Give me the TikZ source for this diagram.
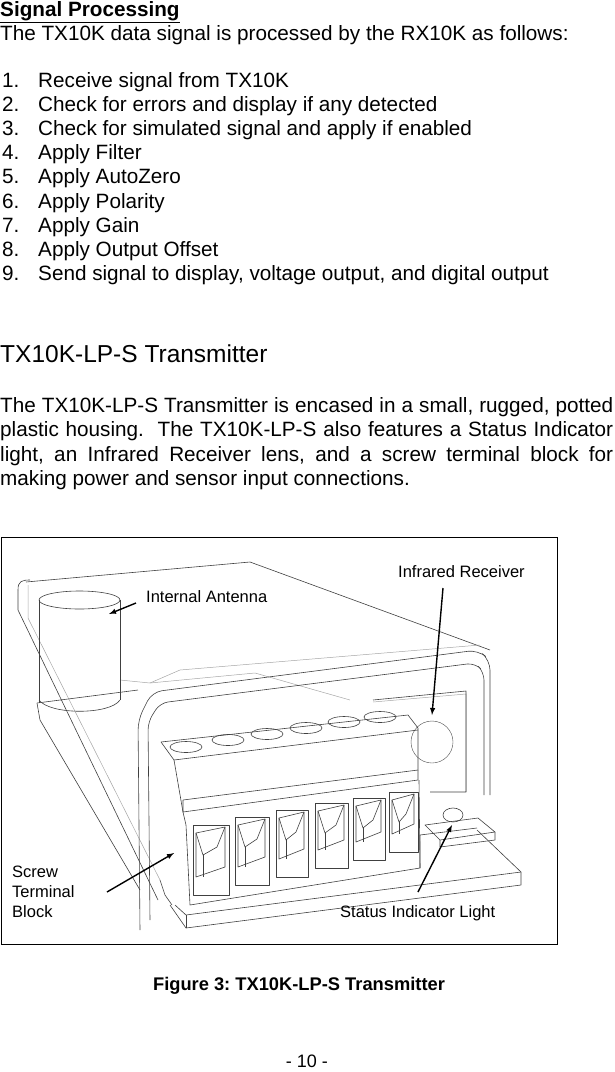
\documentclass[tikz,border=0pt]{standalone}
\usepackage{fontspec}
\setmainfont{Liberation Sans}
\frenchspacing
\begin{document}
\begin{tikzpicture}[x=1pt,y=-1pt,
  txt/.style={anchor=base west,inner sep=0pt,font=\fontsize{20.7}{24}\selectfont},
  lbl/.style={anchor=base west,inner sep=0pt,font=\fontsize{16.5}{20}\selectfont},
  arr/.style={-latex,line width=1.4pt},
  dev/.style={draw=black!75,line width=0.6pt,line join=round},
  faint/.style={draw=black!35,line width=0.5pt}]
\useasboundingbox (0,0) rectangle (615,1072);
% ---------- text ----------
\node[txt] (t1) at (0,16) {\textbf{\underline{Signal Processing}}};
\node[txt] (t2) at (0,40) {The TX10K data signal is processed by the RX10K as follows:};
\foreach \n/\s [count=\i] in {1/Receive signal from TX10K,2/Check for errors and display if any detected,3/Check for simulated signal and apply if enabled,4/Apply Filter,5/Apply AutoZero,6/Apply Polarity,7/Apply Gain,8/Apply Output Offset,9/{Send signal to display, voltage output, and digital output}}{
  \node[txt] (n\i) at (2,{87+24.2*(\i-1)}) {\n.};
  \node[txt] (l\i) at (38,{87+24.2*(\i-1)}) {\s};
}
\node[txt,font=\fontsize{24.5}{28}\selectfont] (h) at (0,362) {TX10K-LP-S Transmitter};
\node[anchor=north west,inner sep=0pt,text width=613pt,align=justify,font=\fontsize{20.7}{24.5}\selectfont] (p) at (0,397)
 {The TX10K-LP-S Transmitter is encased in a small, rugged, potted\linebreak plastic housing.\ \ The TX10K-LP-S also features a Status Indicator\linebreak light, an Infrared Receiver lens, and a screw terminal block for\linebreak making power and sensor input connections.};
\node[txt,anchor=base,font=\bfseries\fontsize{18.3}{22}\selectfont] (cap) at (299,990) {Figure 3: TX10K-LP-S Transmitter};
\node[txt,anchor=base,font=\fontsize{18}{22}\selectfont] (pg) at (307,1067) {- 10 -};
% ---------- figure ----------
\draw[line width=0.8pt] (1,537) rectangle (557,944);
% housing top and sides
\draw[dev] (26,582) -- (250,562) -- (490,650);
\draw[dev] (18,590) .. controls (18,581) and (22,580) .. (30,580);
\draw[dev] (18,590) -- (18,610) -- (158,900);
\draw[faint] (28,585) -- (28,618) -- (160,880);
\draw[dev] (37,703) -- (40,720) -- (140,890);
\draw[dev] (37,703) -- (138,690);
\draw[faint] (120,680) -- (150,683) -- (255,673) -- (350,700);
\draw[faint] (150,683) -- (180,670) -- (480,645);
% front face rounded frame
\draw[dev,rounded corners=10pt] (140,930) -- (138,720) -- (152,692) -- (478,650) -- (490,660) -- (490,795);
\draw[dev,rounded corners=8pt] (150,920) -- (148,722) -- (160,703) -- (475,663) -- (484,672) -- (484,795);
% inner panel
\draw[faint] (373,702) -- (466,694) -- (466,792);
\draw[dev] (373,700) -- (466,691) -- (466,792) -- (430,792);
% antenna
\draw[dev] (39,600) -- (39,703);
\draw[dev] (120,600) -- (120,700);
\draw[dev] (39,700) .. controls (50,715) and (110,715) .. (120,700);
\draw[dev] (79.5,600) ellipse [x radius=40.5, y radius=9];
% infrared receiver
\node[draw=black!70,circle,minimum size=42pt,inner sep=0pt] (ir) at (432,742) {};
% terminal block upper body
\draw[dev] (161,742) -- (408,715) -- (418,728) -- (418,770) -- (183,800);
\draw[dev] (161,742) -- (174,760) -- (418,730);
\draw[dev] (174,760) -- (183,812);
\draw[dev] (183,800) -- (183,812) -- (418,780) -- (418,770);
% screw holes
\foreach \x/\y in {186/747,228/740,267/734,306/728,344/722,380/717}{
  \draw[dev] (\x,\y) ellipse [x radius=16, y radius=5.5];
}
% lower body
\draw[dev] (183,812) -- (186,825) -- (190,905) -- (420,868) -- (419,780);
\draw[dev] (160,880) -- (165,895) -- (172,905);
% wire openings
\foreach \xa/\xb/\ya/\yb in {193/229/825/895,235/269/817/885,276/308/810/877,315/348/803/868,353/385/798/860,389/418/792/852}{
  \draw[dev] (\xa,\ya) rectangle (\xb,\yb);
  \draw[dev] (\xa+3,\ya+8) -- (\xb-4,\ya+2) -- (\xb-4,\yb-28) -- (\xa+3,\yb-18) -- cycle;
  \draw[dev] (\xa+3,\ya+8) -- (\xa+10,\ya+30) -- (\xb-12,\ya+22) -- (\xb-4,\ya+2);
  \draw[dev] (\xa+10,\ya+30) -- (\xa+10,\yb-18);
}
% base plate
\draw[dev] (170,905) -- (186,928) -- (521,885) -- (521,872) -- (477,830);
\draw[dev] (186,915) -- (186,928);
\draw[dev] (175,905) -- (186,915) -- (521,872);
\draw[dev] (420,868) -- (420,835) -- (477,828);
% status LED
\draw[dev] (425,825) -- (478,818) -- (495,832) -- (440,840) -- cycle;
\draw[dev] (440,840) -- (440,847) -- (495,840) -- (495,832);
\draw[dev] (453,815) ellipse [x radius=10, y radius=7];
% labels
\node[lbl] (la) at (146,602) {Internal Antenna};
\node[lbl] (lr) at (398,577) {Infrared Receiver};
\node[lbl] (ls) at (340,917) {Status Indicator Light};
\node[lbl,align=left,anchor=north west,font=\fontsize{16.5}{20}\selectfont] (lt) at (12,866) {Screw\\Terminal\\Block};
\coordinate (aa) at (109,614);
\coordinate (ar) at (432,715);
\coordinate (as) at (452,825);
\coordinate (at) at (174,853);
\draw[arr] (136,603) -- (aa);
\draw[arr] (443,588) -- (ar);
\draw[arr] (418,892) -- (as);
\draw[arr] (107,892) -- (at);
\end{tikzpicture}
\end{document}
